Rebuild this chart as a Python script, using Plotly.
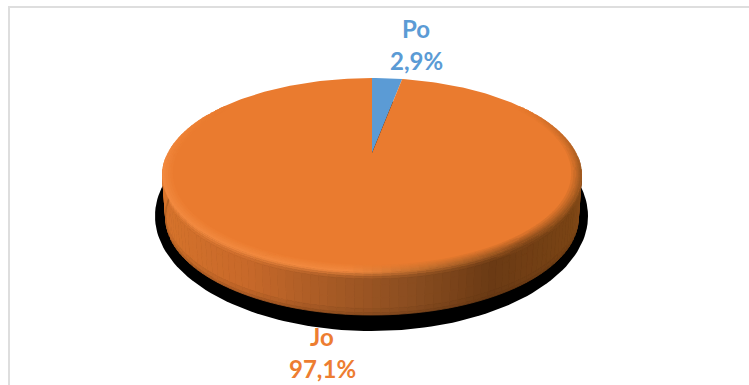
import math
import plotly.graph_objects as go

# Data
categories = ["Po", "Jo"]
shares = [2.9, 97.1]
slice_colors = ["#5b9bd5", "#ea7b2f"]
label_centers = [(416, 28, 60), (322, 336, 368)]

W, H = 749, 385
CX, CY = 372.0, 153.0      # centre of the disc as projected
RX, RY, PERSP = 204.0, 92.0, 0.227
DEPTH, BOTTOM_SCALE = 43.0, 0.985


def project(theta, r=1.0, drop=0.0):
    u, v = r * math.sin(theta), r * math.cos(theta)
    w = 1 + PERSP * v
    s = 1 - (1 - BOTTOM_SCALE) * drop
    return CX + s * RX * u / w, CY + RY * v * -1 / w + DEPTH * drop


def hexrgb(c):
    return tuple(int(c[i:i + 2], 16) for i in (1, 3, 5))


def mix(a, b, t):
    a, b = hexrgb(a), hexrgb(b)
    return "#%02x%02x%02x" % tuple(round(a[i] + (b[i] - a[i]) * t) for i in range(3))


def ramp(stops, n):
    for (n0, c0), (n1, c1) in zip(stops, stops[1:]):
        if n <= n1:
            return mix(c0, c1, max(0, (n - n0) / (n1 - n0)))
    return stops[-1][1]


WALL = [(-1, "#d8752c"), (-0.5, "#c8692a"), (-0.15, "#a65a25"), (0.15, "#8a4d20"),
        (0.47, "#6b3a14"), (0.87, "#7a4414"), (1, "#8a4d1a")]
EDGE = [(-1, "#f28a40"), (-0.1, "#f28a40"), (0.2, "#c4702e"), (0.6, "#8f4f1d"), (1, "#a05a20")]
FACE = slice_colors[1]

fig = go.Figure()


def poly(pts, color, line=0.8):
    fig.add_trace(go.Scatter(
        x=[p[0] for p in pts] + [pts[0][0]], y=[p[1] for p in pts] + [pts[0][1]],
        mode="lines", fill="toself", fillcolor=color,
        line=dict(color=color, width=line), hoverinfo="skip", showlegend=False))


def flush(groups, line):
    for color, polys in groups.items():
        xs, ys = [], []
        for pts in polys:
            xs += [p[0] for p in pts] + [pts[0][0], None]
            ys += [p[1] for p in pts] + [pts[0][1], None]
        fig.add_trace(go.Scatter(x=xs, y=ys, mode="lines", fill="toself", fillcolor=color,
                                 line=dict(color=color, width=line),
                                 hoverinfo="skip", showlegend=False))


# ground shadow
steps = 180
poly([(371.5 + 216.5 * math.cos(2 * math.pi * i / steps),
       216 + 115 * math.sin(2 * math.pi * i / steps)) for i in range(steps)], "#000000", 0)

# wall, shaded along the rim
SEG = 90
A0, A1 = math.radians(92), math.radians(268)
WB = [0, 0.05, 0.1, 0.16, 0.3, 0.6, 0.85, 0.95, 1.0]
groups = {}
for i in range(SEG):
    t0 = A0 + (A1 - A0) * i / SEG
    t1 = A0 + (A1 - A0) * (i + 1) / SEG
    n = math.sin((t0 + t1) / 2)
    base, edge = ramp(WALL, n), ramp(EDGE, n)
    for a, b in zip(WB, WB[1:]):
        mid = (a + b) / 2
        if mid < 0.16:
            col = mix(edge, base, mid / 0.16)
        elif mid > 0.85:
            col = mix(base, "#5a3010", (mid - 0.85) * 2)
        else:
            col = base
        groups.setdefault(col, []).append(
            [project(t0, 1, a), project(t1, 1, a), project(t1, 1, b), project(t0, 1, b)])
flush(groups, 0.8)

# top face, slice angles from the shares
total = sum(shares)
start = 0.0
for share, color in zip(shares, slice_colors):
    span = 2 * math.pi * share / total
    k = max(2, int(share * 3))
    pts = [(CX, CY)] + [project(start + span * j / k) for j in range(k + 1)]
    poly(pts, color, 0)
    start += span

# bevel on the near rim, fading out towards the far side
B0, B1 = math.radians(55), math.radians(305)
FADE = math.radians(45)
RB = [0.955, 0.965, 0.975, 0.985, 0.993, 1.0]
BSEG = 120
groups = {}
for i in range(BSEG):
    t0 = B0 + (B1 - B0) * i / BSEG
    t1 = B0 + (B1 - B0) * (i + 1) / BSEG
    tm = (t0 + t1) / 2
    n = math.sin(tm)
    fade = min(1.0, (tm - B0) / FADE, (B1 - tm) / FADE)
    edge = ramp(EDGE, n)
    for j, (a, b) in enumerate(zip(RB, RB[1:])):
        col = mix(FACE, edge, fade * (j + 1) / (len(RB) - 1))
        groups.setdefault(col, []).append(
            [project(t0, a), project(t1, a), project(t1, b), project(t0, b)])
flush(groups, 0.6)

# labels
annotations = []
for cat, share, color, (lx, y1, y2) in zip(categories, shares, ["#5b9bd5", "#ed7d31"], label_centers):
    for txt, y in ((cat, y1), (f"{share:.1f}".replace(".", ",") + "%", y2)):
        annotations.append(dict(x=lx, y=y, xref="x", yref="y", text=f"<b>{txt}</b>", showarrow=False,
                                font=dict(family="Lato", size=24, color=color),
                                xanchor="center", yanchor="middle"))

# frame lines
shapes = [
    dict(type="line", xref="x", yref="y", x0=9, x1=9, y0=6, y1=H, line=dict(color="#dedede", width=2)),
    dict(type="line", xref="x", yref="y", x0=8, x1=W, y0=7, y1=7, line=dict(color="#dedede", width=2)),
]

fig.update_layout(
    width=W, height=H, margin=dict(l=0, r=0, t=0, b=0),
    paper_bgcolor="white", plot_bgcolor="white", showlegend=False,
    xaxis=dict(range=[0, W], visible=False, fixedrange=True),
    yaxis=dict(range=[H, 0], visible=False, fixedrange=True),
    annotations=annotations, shapes=shapes,
)
fig.write_html("out.html", config={"displayModeBar": False},
               post_script="document.body.style.margin='0';document.body.style.overflow='hidden';")
